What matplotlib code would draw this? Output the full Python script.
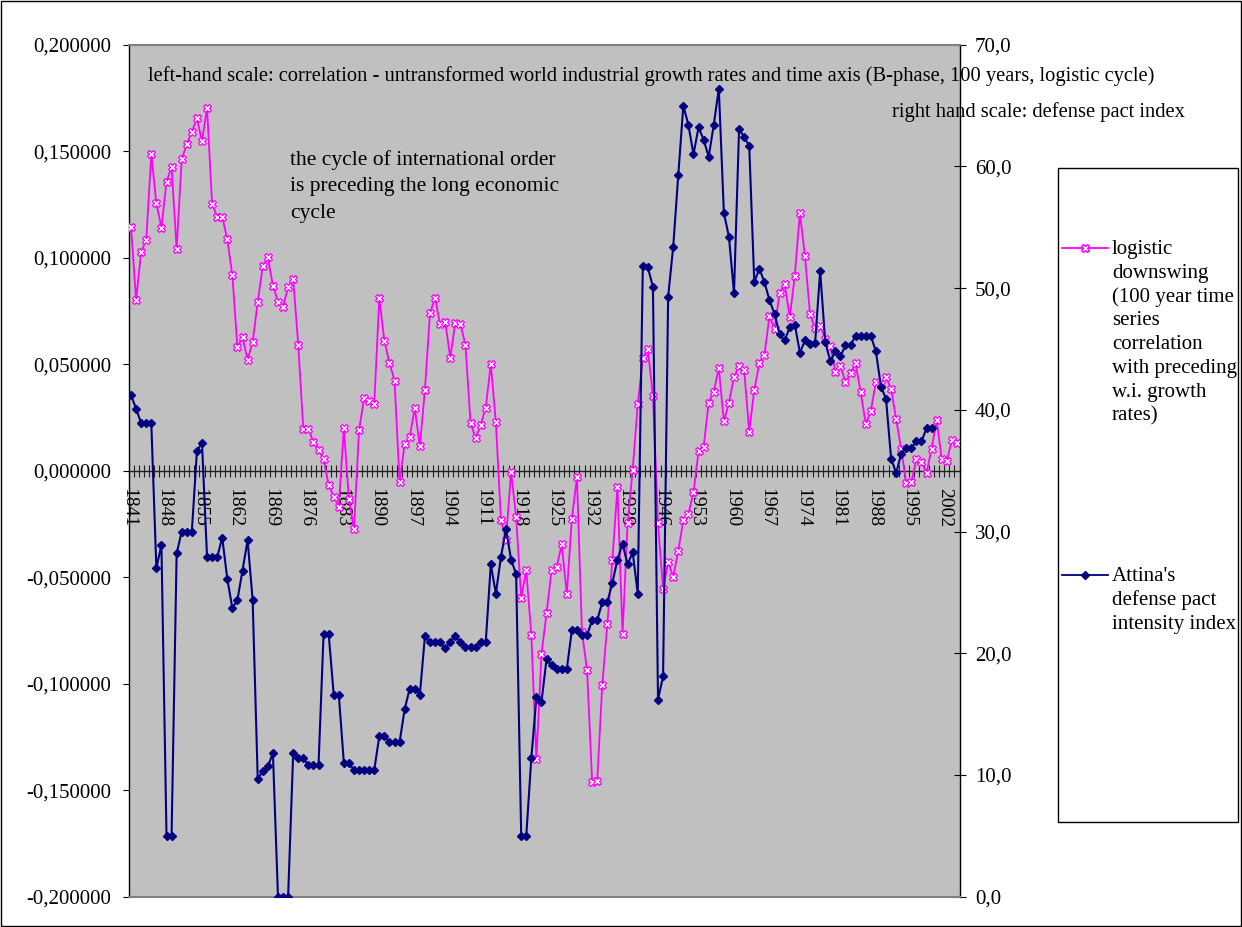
import matplotlib
matplotlib.use("Agg")
import matplotlib.pyplot as plt
from matplotlib.lines import Line2D
from matplotlib.patches import Rectangle
from matplotlib.ticker import FuncFormatter
import numpy as np

plt.rcParams['font.family'] = ['Liberation Serif', 'DejaVu Serif']

# ---- data -------------------------------------------------------------
years = list(range(1841, 2005))

# correlation of untransformed world industrial growth rates with the time axis
logistic_corr = [
    0.1146, 0.0801, 0.1027, 0.1083, 0.1487, 0.1255, 0.1141, 0.1357, 0.1426, 0.1041,
    0.1462, 0.1534, 0.1589, 0.1656, 0.1546, 0.1703, 0.1251, 0.1192, 0.1192, 0.1086,
    0.0917, 0.0579, 0.0629, 0.0520, 0.0604, 0.0791, 0.0961, 0.1002, 0.0869, 0.0794,
    0.0770, 0.0861, 0.0901, 0.0590, 0.0197, 0.0197, 0.0133, 0.0097, 0.0056, -0.0067,
    -0.0122, -0.0170, 0.0199, -0.0133, -0.0274, 0.0191, 0.0340, 0.0327, 0.0313, 0.0812,
    0.0609, 0.0507, 0.0423, -0.0052, 0.0127, 0.0160, 0.0293, 0.0115, 0.0379, 0.0739,
    0.0812, 0.0687, 0.0700, 0.0531, 0.0695, 0.0689, 0.0590, 0.0225, 0.0152, 0.0215,
    0.0296, 0.0500, 0.0230, -0.0231, -0.0325, -0.0006, -0.0216, -0.0596, -0.0468, -0.0771,
    -0.1355, -0.0862, -0.0670, -0.0465, -0.0451, -0.0346, -0.0579, -0.0227, -0.0031, -0.0759,
    -0.0936, -0.1460, -0.1457, -0.1006, -0.0720, -0.0419, -0.0075, -0.0768, -0.0244, 0.0003,
    0.0312, 0.0528, 0.0571, 0.0351, -0.0247, -0.0557, -0.0430, -0.0498, -0.0377, -0.0232,
    -0.0203, -0.0102, 0.0091, 0.0110, 0.0320, 0.0371, 0.0484, 0.0231, 0.0319, 0.0441,
    0.0490, 0.0473, 0.0183, 0.0379, 0.0504, 0.0543, 0.0726, 0.0664, 0.0836, 0.0875,
    0.0720, 0.0916, 0.1211, 0.1008, 0.0736, 0.0668, 0.0681, 0.0618, 0.0585, 0.0465,
    0.0492, 0.0416, 0.0458, 0.0504, 0.0369, 0.0219, 0.0280, 0.0416, 0.0405, 0.0438,
    0.0385, 0.0242, 0.0100, -0.0060, -0.0053, 0.0053, 0.0042, -0.0010, 0.0103, 0.0238,
    0.0053, 0.0045, 0.0144, 0.0130,
]

# Attina's defense pact intensity index (1841-1999)
defense_pact = [
    41.2, 40.1, 38.9, 38.9, 38.9, 27.0, 28.9, 5.0, 5.0, 28.2,
    30.0, 30.0, 30.0, 36.6, 37.3, 27.9, 27.9, 27.9, 29.5, 26.1,
    23.7, 24.4, 26.8, 29.3, 24.4, 9.7, 10.3, 10.7, 11.8, 0.0,
    0.0, 0.0, 11.8, 11.4, 11.4, 10.8, 10.8, 10.8, 21.6, 21.6,
    16.6, 16.6, 11.0, 11.0, 10.4, 10.4, 10.4, 10.4, 10.4, 13.2,
    13.2, 12.7, 12.7, 12.7, 15.4, 17.1, 17.1, 16.6, 21.4, 20.9,
    20.9, 20.9, 20.4, 20.9, 21.4, 20.9, 20.5, 20.5, 20.5, 20.9,
    20.9, 27.3, 24.9, 27.9, 30.2, 27.7, 26.5, 5.0, 5.0, 11.4,
    16.4, 16.0, 19.5, 19.0, 18.7, 18.7, 18.7, 21.9, 21.9, 21.5,
    21.5, 22.7, 22.7, 24.2, 24.2, 25.8, 27.7, 29.0, 27.3, 28.3,
    24.9, 51.8, 51.7, 50.1, 16.2, 18.1, 49.3, 53.4, 59.3, 65.0,
    63.4, 61.0, 63.2, 62.2, 60.8, 63.4, 66.4, 56.2, 54.2, 49.6,
    63.1, 62.4, 61.7, 50.5, 51.6, 50.5, 49.0, 47.9, 46.2, 45.7,
    46.8, 47.0, 44.7, 45.7, 45.4, 45.5, 51.4, 45.6, 44.0, 44.8,
    44.4, 45.3, 45.3, 46.1, 46.1, 46.1, 46.1, 44.8, 41.9, 40.9,
    36.0, 34.8, 36.4, 36.9, 36.9, 37.4, 37.4, 38.5, 38.5,
]

left_ticks = [-0.20, -0.15, -0.10, -0.05, 0.0, 0.05, 0.10, 0.15, 0.20]
right_ticks = [0, 10, 20, 30, 40, 50, 60, 70]
label_step = 7

legend_logistic = ["logistic", "downswing", "(100 year time", "series",
                   "correlation", "with preceding", "w.i. growth", "rates)"]
legend_attina = ["Attina's", "defense pact", "intensity index"]

PINK = '#FF00FF'
NAVY = '#000080'

# ---- figure -----------------------------------------------------------
W, H = 1242, 927
fig = plt.figure(figsize=(W / 100, H / 100), dpi=100)


def fx(x):
    return x / W


def fy(y):
    return 1 - y / H


left_px, right_px, top_px, bottom_px = 128.5, 959.5, 44.7, 896.7
ax = fig.add_axes([fx(left_px), fy(bottom_px),
                   fx(right_px) - fx(left_px), fy(top_px) - fy(bottom_px)])
ax.set_facecolor('#C0C0C0')
ax2 = ax.twinx()

xs = np.arange(len(logistic_corr))
ax.plot(xs, logistic_corr, color=PINK, lw=1.3, marker='X', ms=5.5,
        mfc='white', mec=PINK, mew=0.9, zorder=3)
xn = np.arange(len(defense_pact))
ax2.plot(xn, defense_pact, color=NAVY, lw=1.5, marker='D', ms=3.8,
         mfc=NAVY, mec=NAVY, zorder=3)

ax.set_xlim(-0.5, len(years) - 0.5)
ax.set_ylim(-0.2, 0.2)
ax2.set_ylim(0, 70)

# category axis crossing at zero of the left scale
ax.spines['bottom'].set_position(('data', 0))
ax.spines['bottom'].set_color('#202020')
ax.spines['bottom'].set_linewidth(1.0)
ax.spines['top'].set_visible(False)
ax.spines['right'].set_visible(False)
ax.spines['left'].set_color('black')
ax.spines['left'].set_linewidth(1.0)
ax2.spines['left'].set_visible(False)
ax2.spines['right'].set_color('black')
ax2.spines['right'].set_linewidth(1.0)
for s in ('top', 'bottom'):
    ax2.spines[s].set_color('#808080')
    ax2.spines[s].set_linewidth(1.5)

label_idx = list(range(0, len(years), label_step))
ax.set_xticks([i - 0.5 for i in label_idx])
ax.set_xticklabels([str(years[i]) for i in label_idx], rotation=-90, fontsize=14)
ax.set_xticks(np.arange(-0.5, len(years)), minor=True)
ax.tick_params(axis='x', which='both', direction='inout', length=8,
               width=0.8, color='#202020', pad=8.3)

ax.set_yticks(left_ticks)
ax.yaxis.set_major_formatter(FuncFormatter(lambda v, p: f"{v:.6f}".replace('.', ',')))
ax.tick_params(axis='y', direction='out', length=4, width=0.8, pad=8.3, labelsize=15)

ax2.set_yticks(right_ticks)
ax2.yaxis.set_major_formatter(FuncFormatter(lambda v, p: f"{v:.1f}".replace('.', ',')))
ax2.tick_params(axis='y', direction='inout', length=8.9, width=0.8, pad=6.7, labelsize=15)

# ---- annotations ------------------------------------------------------
fig.text(fx(148), fy(81.0),
         "left-hand scale: correlation - untransformed world industrial growth rates "
         "and time axis (B-phase, 100 years, logistic cycle)",
         fontsize=14.8, va='baseline', ha='left')
fig.text(fx(891.5), fy(116.5), "right hand scale: defense pact index",
         fontsize=14.8, va='baseline', ha='left')
for i, line in enumerate(["the cycle of international order",
                          "is preceding the long economic", "cycle"]):
    fig.text(fx(290), fy(165 + i * 26.5), line, fontsize=15.5, va='baseline', ha='left')

# ---- legend -----------------------------------------------------------
fig.add_artist(Rectangle((fx(1058), fy(822)), fx(1238) - fx(1058), fy(168) - fy(822),
                         transform=fig.transFigure, fc='white', ec='black', lw=1.0))


def legend_entry(y_line, lines, color, marker, mfc, ms):
    fig.add_artist(Line2D([fx(1062), fx(1108)], [fy(y_line)] * 2, color=color, lw=1.3,
                          transform=fig.transFigure))
    fig.add_artist(Line2D([fx(1085)], [fy(y_line)], marker=marker, ms=ms, mfc=mfc,
                          mec=color, color=color, transform=fig.transFigure))
    for i, line in enumerate(lines):
        fig.text(fx(1112), fy(y_line + 6 + i * 23.8), line, fontsize=15,
                 va='baseline', ha='left')


legend_entry(248, legend_logistic, PINK, 'X', 'white', 5.5)
legend_entry(575, legend_attina, NAVY, 'D', NAVY, 3.8)

# outer chart border
fig.add_artist(Rectangle((0.0008, 0.001), 0.9984, 0.998, transform=fig.transFigure,
                         fill=False, ec='black', lw=1.0))

fig.savefig('out.png', dpi=100)
